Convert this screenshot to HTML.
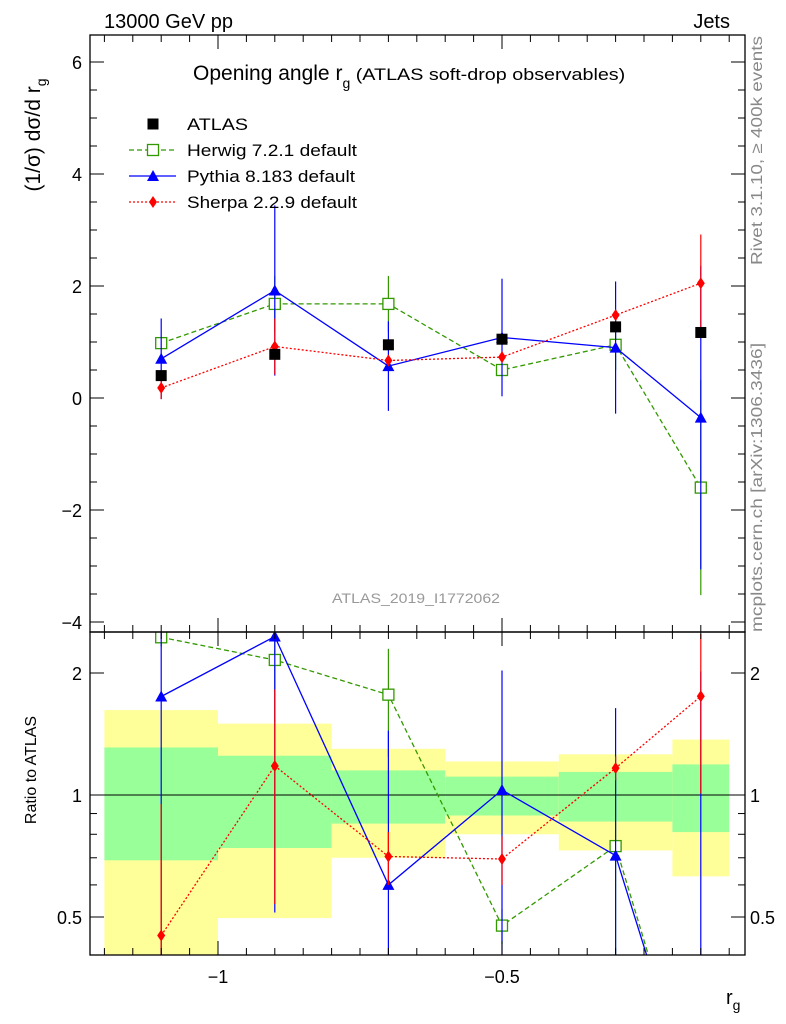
<!DOCTYPE html>
<html><head><meta charset="utf-8"><style>
html,body{margin:0;background:#fff;overflow:hidden;width:786px;height:1024px}
svg{display:block;font-family:"Liberation Sans",sans-serif}
</style></head><body>
<svg id="c" width="786" height="1024" xmlns="http://www.w3.org/2000/svg"></svg>
<script>
const binEdges=[-1.2,-1.0,-0.8,-0.6,-0.4,-0.2,-0.1];
const xCenters=[-1.1,-0.9,-0.7,-0.5,-0.3,-0.15];
const atlas=[0.4,0.78,0.95,1.05,1.27,1.17];
const atlasErr=[0.06,0.07,0.07,0.07,0.07,0.08];
const herwig=[0.98,1.68,1.68,0.5,0.95,-1.6];
const herwigErr=[0.05,0.5,0.5,0.05,0.45,1.92];
const pythia=[0.7,1.92,0.57,1.08,0.9,-0.35];
const pythiaErr=[0.72,1.52,0.8,1.05,1.18,2.71];
const sherpa=[0.18,0.92,0.67,0.73,1.48,2.05];
const sherpaErr=[0.2,0.5,0.1,0.1,0.1,0.87];
const bandYellowHi=[1.62,1.50,1.30,1.21,1.26,1.37];
const bandYellowLo=[0.3,0.497,0.70,0.80,0.73,0.63];
const bandGreenHi=[1.31,1.25,1.15,1.11,1.14,1.19];
const bandGreenLo=[0.69,0.74,0.85,0.89,0.86,0.81];
const mainTicks=[-4,-2,0,2,4,6];
const ratioTicks=[0.5,1,2];
const xTicks=[-1,-0.5];

const NS="http://www.w3.org/2000/svg",svg=document.getElementById('c');
function el(t,a,p){const e=document.createElementNS(NS,t);for(const k in a)e.setAttribute(k,a[k]);(p||svg).appendChild(e);return e;}
const L=90,R=745,T=35,MB=632,RB=955;
const X=v=>218+(v+1)*568;
const Y=v=>398-v*56;
const YR=v=>795-Math.log2(Math.max(v,0.15))*122;
const clampM=y=>Math.max(T,Math.min(MB,y));
const clampR=y=>Math.max(MB,Math.min(RB,y));
function clipPts(pts,lo,hi){
 const out=[];
 for(let i=0;i<pts.length;i++){
  const [x,y]=pts[i];
  if(y>=lo&&y<=hi){out.push([x,y]);}
  if(i<pts.length-1){
   const [x2,y2]=pts[i+1];
   [hi,lo].forEach(b=>{ if((y-b)*(y2-b)<0){const t=(b-y)/(y2-y);out.push([x+t*(x2-x),b]);} });
  }
 }
 return out.map(p=>p[0].toFixed(1)+','+p[1].toFixed(1)).join(' ');
}
const defs=el('defs',{});
const c1=el('clipPath',{id:'cm'},defs);el('rect',{x:L,y:T,width:R-L,height:MB-T},c1);
const c2=el('clipPath',{id:'cr'},defs);el('rect',{x:L,y:MB,width:R-L,height:RB-MB},c2);
const gm=el('g',{'clip-path':'url(#cm)'});
const gr=el('g',{'clip-path':'url(#cr)'});
for(let i=0;i<6;i++){
 const x0=X(binEdges[i]),x1=X(binEdges[i+1]);
 const yt=clampR(YR(bandYellowHi[i])),yb=clampR(YR(bandYellowLo[i]));
 const y=el('rect',{x:x0,y:yt,width:x1-x0,height:yb-yt,fill:'#ffff99'},gr);
 
 const g=el('rect',{x:x0,y:YR(bandGreenHi[i]),width:x1-x0,height:YR(bandGreenLo[i])-YR(bandGreenHi[i]),fill:'#99ff99'},gr);
 
}
el('line',{x1:L,x2:R,y1:YR(1),y2:YR(1),stroke:'#000'},gr);
const series=[
 {name:'herwig',v:herwig,e:herwigErr,c:'#339900',dash:'5,3',m:'sq'},
 {name:'pythia',v:pythia,e:pythiaErr,c:'#0000ff',dash:'',m:'tri'},
 {name:'sherpa',v:sherpa,e:sherpaErr,c:'#ff0000',dash:'2,2',m:'dia'}];
function marker(g,m,x,y,c){
 let e;
 if(m=='sq')e=el('rect',{x:x-5.5,y:y-5.5,width:11,height:11,fill:'#fff',stroke:c,'stroke-width':1.3},g);
 else if(m=='tri')e=el('polygon',{points:`${x},${y-6} ${x-6},${y+5} ${x+6},${y+5}`,fill:c},g);
 else if(m=='dia')e=el('polygon',{points:`${x},${y-6} ${x+4},${y} ${x},${y+6} ${x-4},${y}`,fill:c},g);
 else e=el('rect',{x:x-5.5,y:y-5.5,width:11,height:11,fill:'#000'},g);
 return e;
}
series.forEach(s=>{
 [[gm,Y,s.v.map(v=>v),s.e,clampM,T,MB],[gr,YR,s.v.map((v,i)=>v/atlas[i]),s.e.map((e,i)=>e/atlas[i]),clampR,MB,RB]].forEach(([g,Yf,vals,errs,cl,lo0,hi0],k)=>{
  const pts=clipPts(vals.map((v,i)=>[X(xCenters[i]),Yf(v)]),lo0,hi0);
  const pl=el('polyline',{points:pts,fill:'none',stroke:s.c,'stroke-width':1.3,'stroke-dasharray':s.dash},g);
  
  vals.forEach((v,i)=>{
   const x=X(xCenters[i]);
   const hi=cl(Yf(v+errs[i])),lo=k?(v-errs[i]>0?cl(Yf(v-errs[i])):RB):cl(Yf(v-errs[i]));
   el('line',{x1:x,x2:x,y1:hi,y2:lo,stroke:s.c,'stroke-width':1.2},g);
   const yy=Yf(v);
   if(yy>=lo0&&yy<=hi0){
    const mk=marker(g,s.m,x,yy,s.c);
    
   }
  });
 });
});
atlas.forEach((v,i)=>{
 const x=X(xCenters[i]);
 el('line',{x1:x,x2:x,y1:Y(v+atlasErr[i]),y2:Y(v-atlasErr[i]),stroke:'#000'},gm);
 const mk=marker(gm,'a',x,Y(v),'#000');
 
});
el('rect',{x:L,y:T,width:R-L,height:MB-T,fill:'none',stroke:'#000','stroke-width':1.3});
el('rect',{x:L,y:MB,width:R-L,height:RB-MB,fill:'none',stroke:'#000','stroke-width':1.3});
function txt(x,y,s,a,p){const t=el('text',Object.assign({x,y,'font-size':18},a||{}),p);t.textContent=s;return t;}
for(let v=-4;v<=6.4;v+=0.5){const y=Y(v),len=(Math.abs(v%2)<1e-6)?14:7;
 el('line',{x1:L,x2:L+len,y1:y,y2:y,stroke:'#000'});el('line',{x1:R,x2:R-len,y1:y,y2:y,stroke:'#000'});}
mainTicks.forEach(v=>{const t=txt(82,Y(v)+7,v<0?'\u2212'+(-v):String(v),{'text-anchor':'end'});});
[0.5,0.6,0.7,0.8,0.9,1,2].forEach(v=>{const y=YR(v),len=ratioTicks.includes(v)?14:7;
 el('line',{x1:L,x2:L+len,y1:y,y2:y,stroke:'#000'});el('line',{x1:R,x2:R-len,y1:y,y2:y,stroke:'#000'});});
ratioTicks.forEach(v=>{txt(82,YR(v)+7,String(v),{'text-anchor':'end'});txt(750,YR(v)+7,String(v));});
for(let v=-1.2;v<=-0.099;v+=0.05){const x=X(v),maj=xTicks.some(t=>Math.abs(t-v)<1e-6),len=maj?14:7;
 [[MB,1],[T,1],[RB,-1],[MB,-1]].forEach(([y0,d])=>el('line',{x1:x,x2:x,y1:y0,y2:y0+d*len,stroke:'#000'}));}
xTicks.forEach(v=>{const t=txt(X(v),983,'\u2212'+(-v),{'text-anchor':'middle'});});
txt(104,28,'13000 GeV pp',{'font-size':20});
txt(730,28,'Jets',{'font-size':20,'text-anchor':'end'});
const tt=el('text',{x:193,y:80,'font-size':21});tt.innerHTML='Opening angle r<tspan font-size="14" dy="8">g</tspan><tspan font-size="17" dy="-8" textLength="275" lengthAdjust="spacingAndGlyphs"> (ATLAS soft-drop observables)</tspan>';

const yl=el('text',{transform:'translate(40,135) rotate(-90)','font-size':21,'text-anchor':'middle'});yl.innerHTML='(1/σ) dσ/d r<tspan font-size="14" dy="6">g</tspan>';

const rl=txt(0,0,'Ratio to ATLAS',{transform:'translate(36,770) rotate(-90)','font-size':16,'text-anchor':'middle'});

const xl=el('text',{x:726,y:1004,'font-size':20});xl.innerHTML='r<tspan font-size="14" dy="6">g</tspan>';

txt(416,603,'ATLAS_2019_I1772062',{'font-size':14,fill:'#999','text-anchor':'middle',textLength:168,lengthAdjust:'spacingAndGlyphs'});
txt(0,0,'Rivet 3.1.10, \u2265 400k events',{transform:'translate(762,265) rotate(-90)','font-size':16,fill:'#888',textLength:229,lengthAdjust:'spacingAndGlyphs'});
txt(0,0,'mcplots.cern.ch [arXiv:1306.3436]',{transform:'translate(762,632) rotate(-90)','font-size':16,fill:'#888',textLength:289,lengthAdjust:'spacingAndGlyphs'});
const lg=el('g',{});
const leg=[['ATLAS','a','#000','',61],['Herwig 7.2.1 default','sq','#339900','5,3',170],['Pythia 8.183 default','tri','#0000ff','',168],['Sherpa 2.2.9 default','dia','#ff0000','2,2',170]];
leg.forEach((l,i)=>{const y=124+i*26;
 if(l[3]!==''||i==2)el('line',{x1:129,x2:176,y1:y,y2:y,stroke:l[2],'stroke-width':1.3,'stroke-dasharray':l[3]},lg);
 marker(lg,l[1],153,y,l[2]);
 const t=txt(187,y+6,l[0],{'font-size':17,textLength:l[4],lengthAdjust:'spacingAndGlyphs'},lg);
});
</script>
</body></html>
